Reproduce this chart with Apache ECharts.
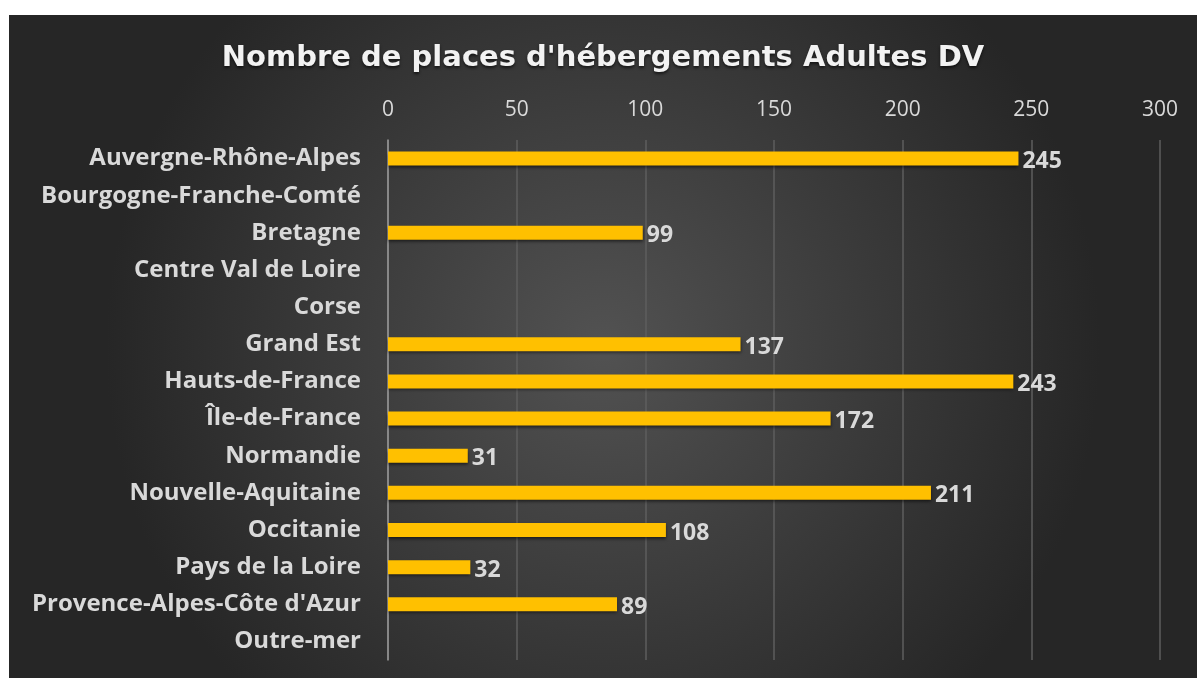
<!DOCTYPE html>
<html>
<head>
<meta charset="utf-8">
<style>
  html, body { margin: 0; padding: 0; background: #ffffff; }
  #chart { position: absolute; left: 9px; top: 15px; width: 1188px; height: 663px; }
</style>
<script src="https://cdn.jsdelivr.net/npm/echarts@6/dist/echarts.min.js"></script>
</head>
<body>
<div id="chart"></div>
<script>
const titleText = "Nombre de places d'hébergements Adultes DV";
const regions = [
  "Auvergne-Rhône-Alpes",
  "Bourgogne-Franche-Comté",
  "Bretagne",
  "Centre Val de Loire",
  "Corse",
  "Grand Est",
  "Hauts-de-France",
  "Île-de-France",
  "Normandie",
  "Nouvelle-Aquitaine",
  "Occitanie",
  "Pays de la Loire",
  "Provence-Alpes-Côte d'Azur",
  "Outre-mer"
];
const places = [245, null, 99, null, null, 137, 243, 172, 31, 211, 108, 32, 89, null];
const axisMin = 0;
const axisMax = 300;
const axisStep = 50;

const chart = echarts.init(document.getElementById("chart"));

const option = {
  backgroundColor: new echarts.graphic.RadialGradient(0.5, 0.5, 0.75, [
    { offset: 0, color: "#525252" },
    { offset: 1, color: "#262626" }
  ]),
  title: {
    text: titleText,
    left: "center",
    top: 24,
    textStyle: {
      color: "#f2f2f2",
      fontFamily: "DejaVu Sans",
      fontWeight: "bold",
      fontSize: 29,
      textShadowColor: "rgba(0,0,0,0.6)",
      textShadowBlur: 3,
      textShadowOffsetY: 2
    }
  },
  grid: {
    left: 379,
    right: 37,
    top: 125,
    bottom: 18,
    containLabel: false
  },
  xAxis: {
    type: "value",
    position: "top",
    min: axisMin,
    max: axisMax,
    interval: axisStep,
    axisLine: { show: false },
    axisTick: { show: false },
    axisLabel: {
      color: "#d9d9d9",
      fontFamily: "Open Sans",
      fontSize: 21,
      margin: 19
    },
    splitLine: {
      show: true,
      lineStyle: { color: "#5e5e5e", width: 1.5 }
    }
  },
  yAxis: {
    type: "category",
    inverse: true,
    data: regions,
    axisLine: { show: true, lineStyle: { color: "#9a9a9a", width: 1.5 } },
    axisTick: { show: false },
    axisLabel: {
      color: "#d9d9d9",
      fontFamily: "Open Sans",
      fontWeight: "bold",
      fontSize: 24,
      margin: 27
    }
  },
  series: [
    {
      type: "bar",
      data: places,
      barWidth: 14,
      itemStyle: {
        color: "#ffc000",
        shadowColor: "rgba(0,0,0,0.55)",
        shadowBlur: 3,
        shadowOffsetY: 2
      },
      label: {
        show: true,
        position: "right",
        distance: 4,
        offset: [0, 3],
        color: "#d9d9d9",
        fontFamily: "Open Sans",
        fontWeight: "bold",
        fontSize: 23
      }
    }
  ]
};

chart.setOption(option);
</script>
</body>
</html>
